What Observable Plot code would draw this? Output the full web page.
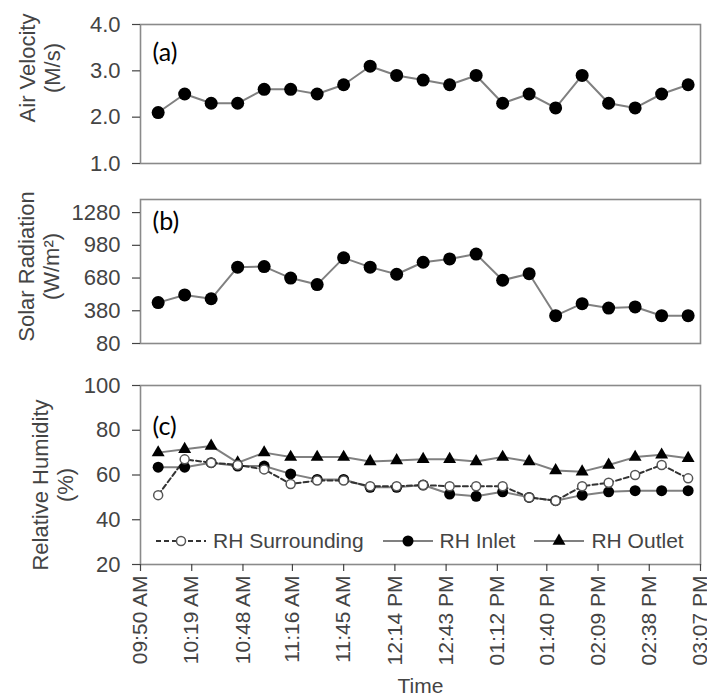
<!DOCTYPE html>
<html>
<head>
<meta charset="utf-8">
<script src="https://cdn.jsdelivr.net/npm/d3@7"></script>
<script src="https://cdn.jsdelivr.net/npm/@observablehq/plot@0.6"></script>
<style>
  html, body { margin: 0; padding: 0; background: #fff; }
  #wrap { position: relative; width: 707px; height: 699px; overflow: hidden; }
  #wrap svg { display: block; }
  #legend { position: absolute; left: 155px; top: 529px; display: flex; align-items: center;
            font-family: "Liberation Sans", Arial, sans-serif; font-size: 21px; color: #444; }
  #legend .item { display: flex; align-items: center; margin-right: 18px; }
  #legend .item span { margin-left: 6px; white-space: nowrap; }
</style>
</head>
<body>
<div id="wrap"></div>
<script>
// ---- data ----
const times = ["10:00","10:15","10:30","10:45","11:00","11:15","11:30","11:45","12:00","12:15","12:30",
               "12:45","13:00","13:15","13:30","13:45","14:00","14:15","14:30","14:45","15:00"];
const airVelocity = [2.1,2.5,2.3,2.3,2.6,2.6,2.5,2.7,3.1,2.9,2.8,2.7,2.9,2.3,2.5,2.2,2.9,2.3,2.2,2.5,2.7];
const solarRadiation = [455,525,490,780,785,680,620,865,780,715,825,855,900,660,720,335,445,405,415,335,335];
const rhSurrounding = [51,67,65.5,64.5,62.5,56,57.5,57.5,55,55,55.5,55,55,55,50,48.5,55,56.5,60,64.5,58.5];
const rhInlet = [63.5,63.5,65.5,64,64,60.5,58,58,54.5,54.5,55.5,51.5,50.5,52.5,50,48.5,51,52.5,53,53,53];
const rhOutlet = [70,71.5,73,65.5,70,68,68,68,66,66.5,67,67,66,68,66,62,61.5,64.5,68,69,67.5];
const xTickLabels = ["09:50 AM","10:19 AM","10:48 AM","11:16 AM","11:45 AM","12:14 PM",
                     "12:43 PM","01:12 PM","01:40 PM","02:09 PM","02:38 PM","03:07 PM"];
const yTicksA = [1, 2, 3, 4];
const yTicksB = [80, 380, 680, 980, 1280];
const yTicksC = [20, 40, 60, 80, 100];
const seriesNames = ["RH Surrounding", "RH Inlet", "RH Outlet"];

// ---- helpers ----
const toMin = s => { const [h, m] = s.split(":").map(Number); return h * 60 + m; };
const labelToMin = s => {
  const [hm, ap] = s.split(" ");
  let [h, m] = hm.split(":").map(Number);
  h = h % 12 + (ap === "PM" ? 12 : 0);
  return h * 60 + m;
};
const tickPos = xTickLabels.map(labelToMin);
const labelByPos = new Map(tickPos.map((p, i) => [p, xTickLabels[i]]));
const xDomain = [tickPos[0], tickPos[tickPos.length - 1]];
const tx = times.map(toMin);

const rowsA = tx.map((t, i) => ({t, v: airVelocity[i]}));
const rowsB = tx.map((t, i) => ({t, v: solarRadiation[i]}));
const rowsS = tx.map((t, i) => ({t, v: rhSurrounding[i]}));
const rowsI = tx.map((t, i) => ({t, v: rhInlet[i]}));
const rowsO = tx.map((t, i) => ({t, v: rhOutlet[i]}));

const FONT = "Liberation Sans, Arial, sans-serif";
const TXT = "#444";
const LINE = "#808080";
const FRAME = "#8a8a8a";
const common = {
  width: 707, marginLeft: 140, marginRight: 7,
  style: {fontFamily: FONT, color: TXT, background: "white", overflow: "visible"},
  x: {domain: xDomain, axis: null}
};
const yAxis = (ticks, fmt) => Plot.axisY({ticks, tickFormat: fmt, tickSize: 8, tickPadding: 12,
  fontSize: 22, label: null, strokeWidth: 1.2});
const panelLabel = (s, dy) => Plot.text([s], {frameAnchor: "top-left", text: d => d, dx: 12, dy,
  textAnchor: "start", lineAnchor: "middle", fontSize: 25, fontFamily: "Lato, Carlito, sans-serif", fill: "black"});
const yTitle = (s, dx, dy) => Plot.text([s], {frameAnchor: "left", text: d => d, rotate: -90, dx, dy,
  lineHeight: 1.15, fontSize: 22, fill: TXT, textAnchor: "middle", lineAnchor: "middle"});

const wrap = document.getElementById("wrap");

// Panel (a)
wrap.append(Plot.plot({
  ...common, height: 180, marginTop: 24, marginBottom: 17,
  y: {domain: [1, 4]},
  marks: [
    Plot.frame({stroke: FRAME, strokeWidth: 1.6}),
    yAxis(yTicksA, d => d.toFixed(1)),
    Plot.line(rowsA, {x: "t", y: "v", stroke: LINE, strokeWidth: 2}),
    Plot.dot(rowsA, {x: "t", y: "v", r: 6.5, fill: "black"}),
    panelLabel("(a)", 28),
    yTitle("Air Velocity\n(M/s)", -101, -26)
  ]
}));

// Panel (b)
wrap.append(Plot.plot({
  ...common, height: 180, marginTop: 19, marginBottom: 17,
  y: {domain: [80, 1400]},
  marks: [
    Plot.frame({stroke: FRAME, strokeWidth: 1.6}),
    yAxis(yTicksB, d => String(d)),
    Plot.line(rowsB, {x: "t", y: "v", stroke: LINE, strokeWidth: 2}),
    Plot.dot(rowsB, {x: "t", y: "v", r: 6.5, fill: "black"}),
    panelLabel("(b)", 22),
    yTitle("Solar Radiation\n(W/m²)", -102, -5)
  ]
}));

// Panel (c)
const plotC = Plot.plot({
  ...common, height: 339, marginTop: 25, marginBottom: 135,
  y: {domain: [20, 100]},
  marks: [
    Plot.frame({stroke: FRAME, strokeWidth: 1.6}),
    yAxis(yTicksC, d => String(d)),
    Plot.axisX({ticks: tickPos, tickFormat: d => labelByPos.get(d), tickRotate: -90, tickSize: 7,
      tickPadding: 4, fontSize: 21, label: null, strokeWidth: 1.2}),
    Plot.line(rowsO, {x: "t", y: "v", stroke: LINE, strokeWidth: 2}),
    Plot.line(rowsI, {x: "t", y: "v", stroke: LINE, strokeWidth: 2}),
    Plot.line(rowsS, {x: "t", y: "v", stroke: "#333", strokeWidth: 2, strokeDasharray: "5,3"}),
    Plot.dot(rowsO, {x: "t", y: "v", symbol: "triangle", r: 4.8, fill: "black"}),
    Plot.dot(rowsI, {x: "t", y: "v", r: 5.5, fill: "black"}),
    Plot.dot(rowsS, {x: "t", y: "v", r: 4.5, fill: "white", stroke: "#555", strokeWidth: 1.5}),
    panelLabel("(c)", 41),
    yTitle("Relative Humidity\n(%)", -88, 10),
    Plot.text(["Time"], {frameAnchor: "bottom", text: d => d, dy: 122, fontSize: 21, fill: TXT,
      textAnchor: "middle", lineAnchor: "middle"})
  ]
});
wrap.append(plotC);

// Legend (inside panel c)
const legend = document.createElement("div");
legend.id = "legend";
const swatchStyles = [
  {stroke: "#333", dash: "5,3", sym: "circleOpen"},
  {stroke: LINE, dash: null, sym: "circle"},
  {stroke: LINE, dash: null, sym: "triangle"}
];
seriesNames.forEach((name, i) => {
  const st = swatchStyles[i];
  const item = document.createElement("div");
  item.className = "item";
  const svg = d3.create("svg").attr("width", 52).attr("height", 20);
  svg.append("line").attr("x1", 1).attr("x2", 51).attr("y1", 10).attr("y2", 10)
    .attr("stroke", st.stroke).attr("stroke-width", 2).attr("stroke-dasharray", st.dash);
  if (st.sym === "circleOpen") {
    svg.append("circle").attr("cx", 26).attr("cy", 10).attr("r", 4.5)
      .attr("fill", "white").attr("stroke", "#555").attr("stroke-width", 1.5);
  } else if (st.sym === "circle") {
    svg.append("circle").attr("cx", 26).attr("cy", 10).attr("r", 5.5).attr("fill", "black");
  } else {
    svg.append("path").attr("transform", "translate(26,10)")
      .attr("d", d3.symbol(d3.symbolTriangle, Math.PI * 4.8 * 4.8)()).attr("fill", "black");
  }
  item.append(svg.node());
  const span = document.createElement("span");
  span.textContent = name;
  item.append(span);
  legend.append(item);
});
wrap.append(legend);
</script>
</body>
</html>
